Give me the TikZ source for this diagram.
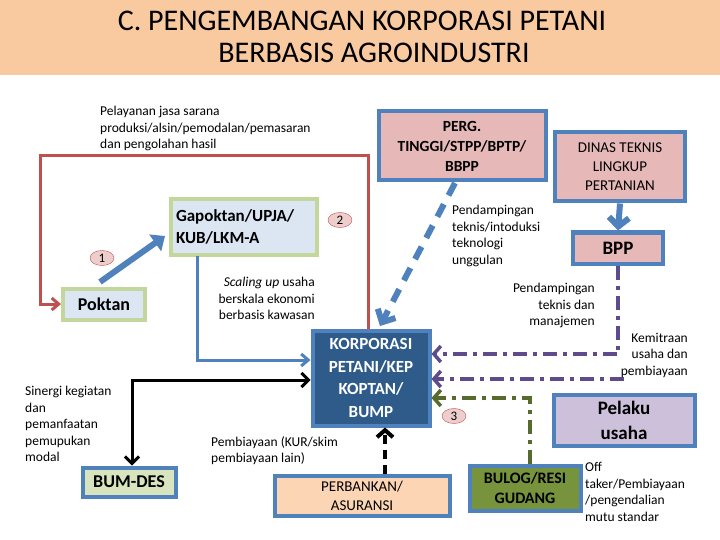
\documentclass[tikz,border=0pt]{standalone}
\usepackage{fontspec}
\setmainfont{Carlito}
\usetikzlibrary{arrows.meta,shapes.geometric}
\definecolor{peach}{HTML}{F9C9A0}
\definecolor{bluebd}{HTML}{4F81BD}
\definecolor{lblue}{HTML}{DCE6F2}
\definecolor{greenbd}{HTML}{C3D69B}
\definecolor{pinkf}{HTML}{E6B9B8}
\definecolor{darkb}{HTML}{2F5B8A}
\definecolor{redl}{HTML}{C0504D}
\definecolor{purp}{HTML}{5F4B8B}
\definecolor{olive}{HTML}{77933C}
\definecolor{lav}{HTML}{CCC0DA}
\definecolor{bumf}{HTML}{D7E4BD}
\definecolor{bankf}{HTML}{FCD5B5}
\definecolor{dgreen}{HTML}{4F6228}
\tikzset{
  box/.style={draw=bluebd,line width=4pt,font=\bfseries,align=center,inner sep=0pt},
  gbox/.style={draw=greenbd,fill=lblue,line width=4pt,font=\bfseries,align=left,inner sep=0pt},
  lbl/.style={font=\fontsize{13.5}{16.5}\selectfont,inner sep=0pt},
  num/.style={ellipse,draw=redl,fill=pinkf!70,font=\fontsize{13}{13}\selectfont,minimum width=24pt,minimum height=15pt,inner sep=0pt},
}
\begin{document}
\begin{tikzpicture}[x=1pt,y=-1pt]
\useasboundingbox (0,0) rectangle (720,540);
\fill[peach] (0,0) rectangle (720,75);
\node[font=\fontsize{30}{32}\selectfont,align=center] (title) at (362,37) {C. PENGEMBANGAN KORPORASI PETANI\\\hspace*{24pt}BERBASIS AGROINDUSTRI};
\node[lbl,align=left,anchor=north west] (pel) at (100,106) {Pelayanan jasa sarana\\produksi/alsin/pemodalan/pemasaran\\dan pengolahan hasil};
% boxes
\node[gbox,minimum width=146pt,minimum height=55pt,text width=136pt,font=\fontsize{17}{22}\selectfont\bfseries] (gap) at (244,227) {Gapoktan/UPJA/\\KUB/LKM-A};
\node[gbox,minimum width=82pt,minimum height=31pt,align=center,font=\fontsize{18}{20}\selectfont\bfseries] (pok) at (104,304) {Poktan};
\node[num] (n1) at (102,258) {1};
\node[num] (n2) at (340,220) {2};
\node[box,fill=pinkf,minimum width=167pt,minimum height=69pt,font=\fontsize{15.5}{20}\selectfont\bfseries] (perg) at (462,146) {PERG.\\TINGGI/STPP/BPTP/\\BBPP};
\node[box,fill=pinkf,minimum width=130pt,minimum height=69pt,font=\fontsize{15}{19}\selectfont] (din) at (620,167) {DINAS TEKNIS\\LINGKUP\\PERTANIAN};
\node[box,fill=pinkf,minimum width=90pt,minimum height=31pt,font=\fontsize{19}{21}\selectfont\bfseries] (bpp) at (618,248) {BPP};
\node[box,fill=darkb,text=white,minimum width=117pt,minimum height=95pt,font=\fontsize{17}{22.5}\selectfont\bfseries] (kor) at (371,378) {KORPORASI\\PETANI/KEP\\KOPTAN/\\BUMP};
\node[box,fill=lav,minimum width=141pt,minimum height=51pt,font=\fontsize{19}{25}\selectfont\bfseries] (pel2) at (624,420) {Pelaku\\usaha};
\node[box,fill=bumf,minimum width=93pt,minimum height=29pt,font=\fontsize{18}{20}\selectfont\bfseries] (bum) at (129,482) {BUM-DES};
\node[box,fill=bankf,minimum width=175pt,minimum height=40pt,font=\fontsize{15}{19}\selectfont] (bank) at (362,496) {PERBANKAN/\\ASURANSI};
\node[box,fill=olive,minimum width=111pt,minimum height=45pt,font=\fontsize{16}{20}\selectfont\bfseries] (bul) at (525,488) {BULOG/RESI\\GUDANG};
\node[num] (n3) at (454,416) {3};
% labels
\node[lbl,align=right,anchor=north east] (sc) at (315,277) {\textit{Scaling up} usaha\\berskala ekonomi\\berbasis kawasan};
\node[lbl,align=left,anchor=north west] (pd1) at (452,205) {Pendampingan\\teknis/intoduksi\\teknologi\\unggulan};
\node[lbl,align=right,anchor=north east] (pd2) at (595,283) {Pendampingan\\teknis dan\\manajemen};
\node[lbl,align=right,anchor=north east] (kem) at (688,333) {Kemitraan\\usaha dan\\pembiayaan};
\node[lbl,align=left,anchor=north west] (sin) at (25,386) {Sinergi kegiatan\\dan\\pemanfaatan\\pemupukan\\modal};
\node[lbl,align=left,anchor=north west] (pem) at (211,436) {Pembiayaan (KUR/skim\\pembiayaan lain)};
\node[lbl,align=left,anchor=north west] (off) at (585,462) {Off\\taker/Pembiayaan\\/pengendalian\\mutu standar};
% connectors
\coordinate (r1) at (368,156); \coordinate (r2) at (40,156);
\draw[redl,line width=3pt,-{Straight Barb[length=7pt,width=12pt]}] ([xshift=-3pt]kor.north) -- (r1) -- (r2) |- (pok.west);
\coordinate (a1) at (100,282); \coordinate (a2) at (165,236);
\draw[bluebd,line width=6pt,-{Triangle[length=12pt,width=20pt]}] (a1) -- (a2);
\coordinate (b1) at (197,360);
\draw[bluebd,line width=3pt,-{Straight Barb[length=7pt,width=12pt]}] (197,256) -- (b1) -- (kor.west|-b1);
\draw[bluebd,line width=6pt,dash pattern=on 14pt off 10pt,-{Straight Barb[length=10pt,width=20pt]}] (455,183) -- (380,326);
\draw[bluebd,line width=6pt,-{Straight Barb[length=9pt,width=20pt]}] (din.south) -- (bpp.north);
\coordinate (p1) at (618,354);
\draw[purp,line width=3.5pt,dash pattern=on 14pt off 6pt on 4pt off 6pt,-{Straight Barb[length=7pt,width=16pt]}] (bpp.south) -- (p1) -- (kor.east|-p1);
\draw[purp,line width=3.5pt,dash pattern=on 14pt off 6pt on 4pt off 6pt,-{Straight Barb[length=7pt,width=16pt]}] (624,379) -- (kor.east|-0,379);
\coordinate (g1) at (530,398);
\draw[dgreen!80!olive,line width=3.5pt,dash pattern=on 14pt off 6pt on 4pt off 6pt,-{Straight Barb[length=7pt,width=16pt]}] (bul.north-|g1) -- (g1) -- (kor.east|-g1);
\coordinate (k1) at (132,380);
\draw[black,line width=3pt,{Straight Barb[length=7pt,width=14pt]}-{Straight Barb[length=7pt,width=14pt]}] (bum.north-|k1) -- (k1) -- (kor.west|-k1);
\draw[black,line width=4pt,dash pattern=on 9pt off 6pt,-{Straight Barb[length=7pt,width=16pt]}] (bank.north-|385,0) -- (kor.south-|385,0);
\end{tikzpicture}
\end{document}
